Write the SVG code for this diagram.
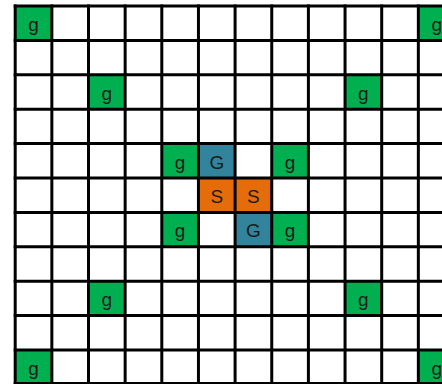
<svg xmlns="http://www.w3.org/2000/svg" width="442" height="384" viewBox="0 0 442 384">
<style>
.g{fill:#00B050}.b{fill:#31849B}.o{fill:#E46C0A}
text{font-family:"Liberation Sans","Open Sans",sans-serif;font-size:19px;fill:#1a1a1a;text-anchor:middle}
.grid line{stroke:#000;stroke-width:3}
</style>
<rect width="442" height="384" fill="#fff"/>
<g id="cells">
<g id="g1"><rect class="g" x="15.2" y="6" width="36.65" height="34.4"/><text x="33.5" y="31">g</text></g>
<g id="g2"><rect class="g" x="418.35" y="6" width="36.65" height="34.4"/><text x="436.7" y="31">g</text></g>
<g id="g3"><rect class="g" x="88.5" y="74.8" width="36.65" height="34.4"/><text x="106.8" y="99.8">g</text></g>
<g id="g4"><rect class="g" x="345.05" y="74.8" width="36.65" height="34.4"/><text x="363.4" y="99.8">g</text></g>
<g id="g5"><rect class="g" x="161.8" y="143.6" width="36.65" height="34.4"/><text x="180.1" y="168.6">g</text></g>
<g id="G1"><rect class="b" x="198.45" y="143.6" width="36.65" height="34.4"/><text x="216.8" y="168.6">G</text></g>
<g id="g6"><rect class="g" x="271.75" y="143.6" width="36.65" height="34.4"/><text x="290.1" y="168.6">g</text></g>
<g id="S1"><rect class="o" x="198.45" y="178" width="36.65" height="34.4"/><text x="216.8" y="203">S</text></g>
<g id="S2"><rect class="o" x="235.1" y="178" width="36.65" height="34.4"/><text x="253.4" y="203">S</text></g>
<g id="g7"><rect class="g" x="161.8" y="212.4" width="36.65" height="34.4"/><text x="180.1" y="237.4">g</text></g>
<g id="G2"><rect class="b" x="235.1" y="212.4" width="36.65" height="34.4"/><text x="253.4" y="237.4">G</text></g>
<g id="g8"><rect class="g" x="271.75" y="212.4" width="36.65" height="34.4"/><text x="290.1" y="237.4">g</text></g>
<g id="g9"><rect class="g" x="88.5" y="281.2" width="36.65" height="34.4"/><text x="106.8" y="306.2">g</text></g>
<g id="g10"><rect class="g" x="345.05" y="281.2" width="36.65" height="34.4"/><text x="363.4" y="306.2">g</text></g>
<g id="g11"><rect class="g" x="15.2" y="350" width="36.65" height="34.4"/><text x="33.5" y="375">g</text></g>
<g id="g12"><rect class="g" x="418.35" y="350" width="36.65" height="34.4"/><text x="436.7" y="375">g</text></g>
</g>
<g class="grid" id="grid">
<line x1="15.2" y1="4.5" x2="15.2" y2="386"/>
<line x1="51.85" y1="4.5" x2="51.85" y2="386"/>
<line x1="88.5" y1="4.5" x2="88.5" y2="386"/>
<line x1="125.15" y1="4.5" x2="125.15" y2="386"/>
<line x1="161.8" y1="4.5" x2="161.8" y2="386"/>
<line x1="198.45" y1="4.5" x2="198.45" y2="386"/>
<line x1="235.1" y1="4.5" x2="235.1" y2="386"/>
<line x1="271.75" y1="4.5" x2="271.75" y2="386"/>
<line x1="308.4" y1="4.5" x2="308.4" y2="386"/>
<line x1="345.05" y1="4.5" x2="345.05" y2="386"/>
<line x1="381.7" y1="4.5" x2="381.7" y2="386"/>
<line x1="418.35" y1="4.5" x2="418.35" y2="386"/>
<line x1="13.7" y1="6" x2="442" y2="6"/>
<line x1="13.7" y1="40.4" x2="442" y2="40.4"/>
<line x1="13.7" y1="74.8" x2="442" y2="74.8"/>
<line x1="13.7" y1="109.2" x2="442" y2="109.2"/>
<line x1="13.7" y1="143.6" x2="442" y2="143.6"/>
<line x1="13.7" y1="178" x2="442" y2="178"/>
<line x1="13.7" y1="212.4" x2="442" y2="212.4"/>
<line x1="13.7" y1="246.8" x2="442" y2="246.8"/>
<line x1="13.7" y1="281.2" x2="442" y2="281.2"/>
<line x1="13.7" y1="315.6" x2="442" y2="315.6"/>
<line x1="13.7" y1="350" x2="442" y2="350"/>
<line x1="13.7" y1="383.5" x2="442" y2="383.5"/>
</g>
</svg>
